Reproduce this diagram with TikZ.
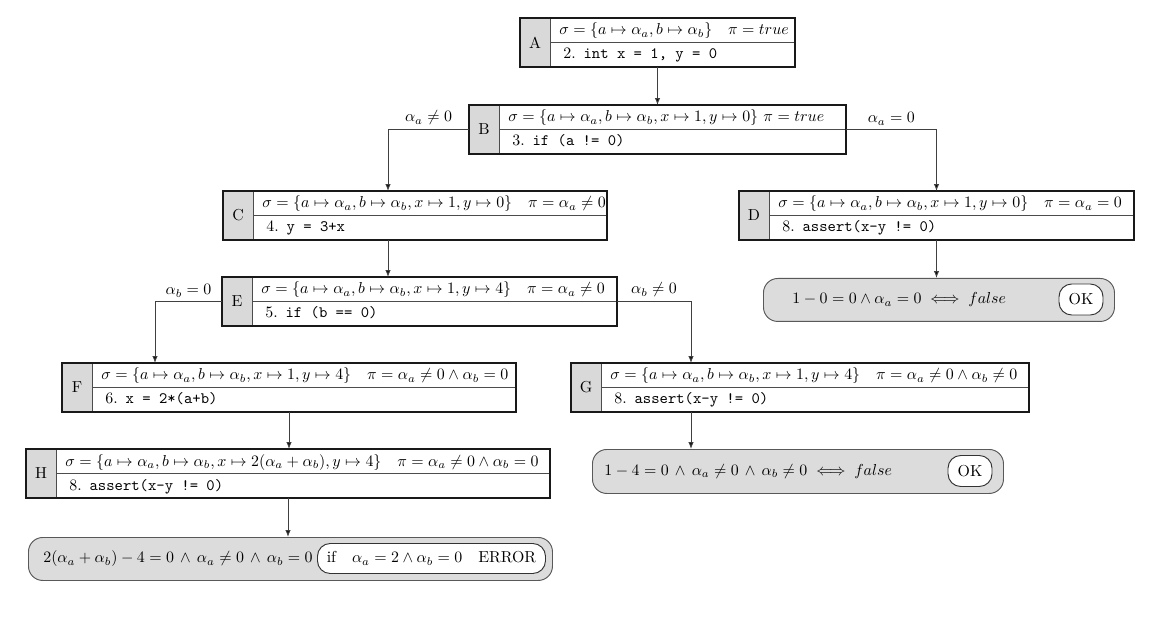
\documentclass[tikz,border=0pt]{standalone}
\usepackage{amsmath,amssymb}
\usetikzlibrary{arrows.meta,calc}
\definecolor{cellgray}{RGB}{217,217,217}
\definecolor{resgray}{RGB}{220,220,220}
\newcommand{\pxu}{0.629pt}
\newcommand{\wand}{\mskip3mu\wedge\mskip3mu}
\tikzset{
  stborder/.style={draw=black!90, line width=0.75pt},
  divline/.style={draw=black!70, line width=0.6pt},
  conn/.style={draw=black!75, line width=0.6pt, -{Latex[length=4.3pt,width=3.4pt,fill=black]}},
  branchlab/.style={above, inner sep=2.5pt},
  labtext/.style={inner sep=0pt},
  rowtext/.style={anchor=base west, inner sep=0pt},
  resbox/.style={draw=black!65, fill=resgray, line width=0.6pt, rounded corners=9pt, inner sep=0pt},
  okbox/.style={draw=black!80, fill=white, line width=0.6pt, rounded corners=8pt, inner sep=0pt},
}
% #1 name, #2 x1, #3 y1, #4 x2, #5 label, #6 top row, #7 code row
\newcommand{\stbox}[7]{%
  \node[inner sep=0pt, outer sep=0pt, minimum width={(#4-#2)*\pxu}, minimum height={49*\pxu}, anchor=north west] (#1) at (#2,#3) {};
  \fill[cellgray] (#1.north west) rectangle ($(#1.south west)+(30,0)$);
  \draw[divline] ($(#1.north west)+(30,0)$) -- ($(#1.south west)+(30,0)$);
  \draw[divline] ($(#1.west)+(30,0)$) -- (#1.east);
  \node[labtext] (#1-lab) at ($(#1.west)+(15,0)$) {#5};
  \node[rowtext] (#1-top) at ($(#1.north west)+(39,17)$) {#6};
  \node[rowtext] (#1-code) at ($(#1.north west)+(43,41)$) {#7};
  \draw[stborder] (#1.north west) rectangle (#1.south east);
}
\newcommand{\codeln}[2]{#1.\enspace\texttt{#2}}
\begin{document}
\begin{tikzpicture}[x=\pxu, y=-\pxu]
\path[use as bounding box] (0,0) rectangle (1156,631);

\stbox{A}{520}{18}{795}{A}{$\sigma=\{a\mapsto\alpha_a, b\mapsto\alpha_b\}\quad\pi=true$}{\codeln{2}{int x = 1, y = 0}}
\stbox{B}{469}{105}{846}{B}{$\sigma=\{a\mapsto\alpha_a, b\mapsto\alpha_b, x\mapsto 1, y\mapsto 0\}\ \pi=true$}{\codeln{3}{if (a != 0)}}
\stbox{C}{223}{191}{607}{C}{$\sigma=\{a\mapsto\alpha_a, b\mapsto\alpha_b, x\mapsto 1, y\mapsto 0\}\quad\pi=\alpha_a\neq 0$}{\codeln{4}{y = 3+x}}
\stbox{D}{739}{191}{1134}{D}{$\sigma=\{a\mapsto\alpha_a, b\mapsto\alpha_b, x\mapsto 1, y\mapsto 0\}\quad\pi=\alpha_a=0$}{\codeln{8}{assert(x-y != 0)}}
\stbox{E}{222}{277}{617}{E}{$\sigma=\{a\mapsto\alpha_a, b\mapsto\alpha_b, x\mapsto 1, y\mapsto 4\}\quad\pi=\alpha_a\neq 0$}{\codeln{5}{if (b == 0)}}
\stbox{F}{62}{363}{516}{F}{$\sigma=\{a\mapsto\alpha_a, b\mapsto\alpha_b, x\mapsto 1, y\mapsto 4\}\quad\pi=\alpha_a\neq 0\wedge\alpha_b=0$}{\codeln{6}{x = 2*(a+b)}}
\stbox{G}{571}{363}{1029}{G}{$\sigma=\{a\mapsto\alpha_a, b\mapsto\alpha_b, x\mapsto 1, y\mapsto 4\}\quad\pi=\alpha_a\neq 0\wedge\alpha_b\neq 0$}{\codeln{8}{assert(x-y != 0)}}
\stbox{H}{26}{449}{550}{H}{$\sigma=\{a\mapsto\alpha_a, b\mapsto\alpha_b, x\mapsto 2(\alpha_a+\alpha_b), y\mapsto 4\}\quad\pi=\alpha_a\neq 0\wedge\alpha_b=0$}{\codeln{8}{assert(x-y != 0)}}

% result boxes
\node[resbox, minimum width={351*\pxu}, minimum height={43*\pxu}, anchor=north west] (rD) at (763,278) {};
\node[anchor=west, inner sep=0pt] (rD-t) at ($(rD.west)+(29,0)$) {$1-0=0\wedge\alpha_a=0\iff false$};
\node[okbox, minimum width={44*\pxu}, minimum height={31*\pxu}] (rD-ok) at (1081,299.5) {OK};

\node[resbox, minimum width={411*\pxu}, minimum height={44*\pxu}, anchor=north west] (rG) at (592,449) {};
\node[anchor=west, inner sep=0pt] (rG-t) at ($(rG.west)+(12,0)$) {$1-4=0\wand\alpha_a\neq 0\wand\alpha_b\neq 0\iff false$};
\node[okbox, minimum width={44*\pxu}, minimum height={31*\pxu}] (rG-ok) at (970,471) {OK};

\node[resbox, minimum width={524*\pxu}, minimum height={43*\pxu}, anchor=north west] (rH) at (28,537) {};
\node[anchor=west, inner sep=0pt] (rH-t) at ($(rH.west)+(15,0)$) {$2(\alpha_a+\alpha_b)-4=0\wand\alpha_a\neq 0\wand\alpha_b=0$};
\node[okbox, minimum width={228*\pxu}, minimum height={30*\pxu}, anchor=west] (rH-err) at (317,558.5) {if\quad$\alpha_a=2\wedge\alpha_b=0$\quad ERROR};

% connectors
\coordinate (xC) at (388,0);
\coordinate (xF) at (155,0);
\coordinate (xG) at (691,0);
\draw[conn] (A.south) -- (B.north);
\draw[conn] (B.west) -| node[branchlab, pos=0.25] (lBC) {$\alpha_a\neq 0$} (C.north -| xC);
\draw[conn] (B.east) -| node[branchlab, pos=0.25] (lBD) {$\alpha_a=0$} (D.north);
\draw[conn] (C.south -| xC) -- (E.north -| xC);
\draw[conn] (E.west) -| node[branchlab, pos=0.25] (lEF) {$\alpha_b=0$} (F.north -| xF);
\draw[conn] (E.east) -| node[branchlab, pos=0.25] (lEG) {$\alpha_b\neq 0$} (G.north -| xG);
\draw[conn] (F.south) -- (H.north -| F.south);
\draw[conn] (D.south) -- (rD.north -| D.south);
\draw[conn] (G.south -| xG) -- (rG.north -| xG);
\draw[conn] (H.south) -- (rH.north -| H.south);
\end{tikzpicture}
\end{document}
